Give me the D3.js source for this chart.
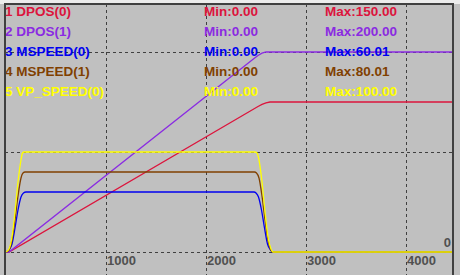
<!DOCTYPE html>
<html>
<head>
<meta charset="utf-8">
<script src="https://cdn.jsdelivr.net/npm/d3@7"></script>
<style>
  html, body { margin: 0; padding: 0; background: #c0c0c0; }
  svg { display: block; }
  .lbl { font-family: "Liberation Sans", Arial, sans-serif; font-weight: bold; font-size: 13.5px; }
  .tick-lbl { font-family: "Liberation Sans", Arial, sans-serif; font-weight: bold; font-size: 13px; fill: #505050; }
</style>
</head>
<body>
<svg id="scope"></svg>
<script>
// legend rows
const names = ["1 DPOS(0)", "2 DPOS(1)", "3 MSPEED(0)", "4 MSPEED(1)", "5 VP_SPEED(0)"];
const mins = ["Min:0.00", "Min:0.00", "Min:0.00", "Min:0.00", "Min:0.00"];
const maxs = ["Max:150.00", "Max:200.00", "Max:60.01", "Max:80.01", "Max:100.00"];
const colors = ["#dc143c", "#8a2be2", "#0000f0", "#804000", "#ffff00"];

// x ticks, horizontal grid values
const xTicks = [1000, 2000, 3000, 4000];
const yGrid = [0, 100, 200];

// series as [time, value]
const dpos0 = [[0,0],[30,0],[2520,145.5],[2560,147.6],[2600,149.2],[2640,150],[4470,150]];
const dpos1 = [[0,0],[30,0],[2480,193.5],[2520,196.5],[2560,198.8],[2600,200],[4470,200]];
const mspeed0 = [[0,0],[30,2],[60,8],[90,24],[120,42],[150,55],[175,59],[200,60],[2480,60],[2500,59],[2525,55],[2555,42],[2585,24],[2615,8],[2645,2],[2665,0],[4470,0]];
const mspeed1 = [[0,0],[30,2],[60,12],[90,32],[120,56],[150,74],[170,79],[190,80],[2485,80],[2505,79],[2530,74],[2560,56],[2590,32],[2620,12],[2648,2],[2668,0],[4470,0]];
const vpspeed = [[0,0],[30,3],[60,15],[90,40],[120,70],[150,92],[165,99],[180,100],[2490,100],[2510,99],[2530,92],[2560,70],[2590,40],[2620,15],[2650,3],[2670,0],[4470,0]];
const series = [dpos0, dpos1, mspeed0, mspeed1, vpspeed];

const width = 460, height = 275;
const frame = { left: 5, top: 4, right: 453 };

const svg = d3.select("#scope").attr("width", width).attr("height", height);

const X = d3.scaleLinear().domain([0, 4470]).range([6, 453]);
const Y = d3.scaleLinear().domain([0, 248]).range([252, 4]);

// outside strip on top
svg.append("rect").attr("x", 0).attr("y", 0).attr("width", width).attr("height", frame.top)
  .attr("fill", "#ececec");
svg.append("rect").attr("x", frame.left).attr("y", frame.top)
  .attr("width", frame.right - frame.left).attr("height", height - frame.top)
  .attr("fill", "#c0c0c0");

// grid
const grid = svg.append("g").attr("stroke", "#404040").attr("stroke-width", 1).attr("stroke-dasharray", "3,3");
grid.selectAll(".vg").data(xTicks).join("line")
  .attr("x1", (d) => Math.round(X(d)) + 0.5).attr("x2", (d) => Math.round(X(d)) + 0.5)
  .attr("y1", frame.top).attr("y2", height);
grid.selectAll(".hg").data(yGrid).join("line")
  .attr("x1", frame.left).attr("x2", frame.right)
  .attr("y1", (d) => Math.round(Y(d)) + 0.5).attr("y2", (d) => Math.round(Y(d)) + 0.5);

// tick labels
svg.selectAll(".xt").data(xTicks).join("text")
  .attr("class", "tick-lbl")
  .attr("x", (d) => Math.round(X(d)) + 1).attr("y", 265)
  .text((d) => d);
svg.append("text").attr("class", "tick-lbl")
  .attr("x", 451).attr("y", 247).attr("text-anchor", "end").text("0");

// traces: positions straight, speeds smoothed
const posLine = d3.line().x((d) => X(d[0])).y((d) => Y(d[1]));
const spdLine = d3.line().x((d) => X(d[0])).y((d) => Y(d[1])).curve(d3.curveMonotoneX);
svg.append("g").selectAll("path").data(series).join("path")
  .attr("d", (d, i) => (i < 2 ? posLine(d) : spdLine(d)))
  .attr("fill", "none")
  .attr("stroke", (d, i) => colors[i])
  .attr("stroke-width", 1.3);

// legend
const legend = svg.append("g");
const rowY = (i) => 16 + i * 20;
legend.selectAll(".nm").data(names).join("text").attr("class", "lbl")
  .attr("x", 5).attr("y", (d, i) => rowY(i)).attr("fill", (d, i) => colors[i]).text((d) => d);
legend.selectAll(".mn").data(mins).join("text").attr("class", "lbl")
  .attr("x", 204).attr("y", (d, i) => rowY(i)).attr("fill", (d, i) => colors[i]).text((d) => d);
legend.selectAll(".mx").data(maxs).join("text").attr("class", "lbl")
  .attr("x", 325).attr("y", (d, i) => rowY(i)).attr("fill", (d, i) => colors[i]).text((d) => d);

// frame
svg.append("path")
  .attr("d", `M${frame.left},${height} V${frame.top} H${frame.right} V${height}`)
  .attr("fill", "none").attr("stroke", "#404040").attr("stroke-width", 2);
</script>
</body>
</html>
